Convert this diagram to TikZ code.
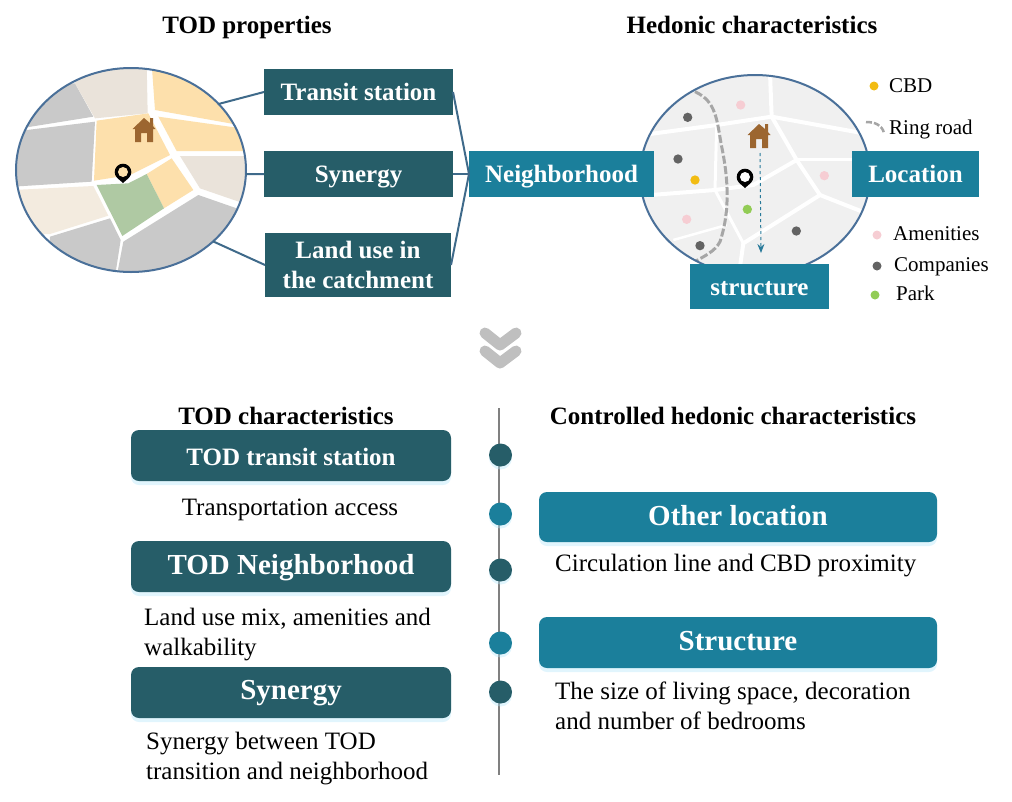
\documentclass[tikz,border=0pt]{standalone}
\usepackage{fontspec}
\setmainfont{Liberation Serif}
\usetikzlibrary{shapes.geometric,shadows,arrows.meta}
\definecolor{darkteal}{HTML}{265D68}
\definecolor{midteal}{HTML}{1B7F9B}
\definecolor{mapline}{HTML}{4A7099}
\definecolor{brgray}{HTML}{C9C9C9}
\definecolor{brbeige}{HTML}{EAE3DA}
\definecolor{brorange}{HTML}{FDE0AC}
\definecolor{brgreen}{HTML}{AFC9A3}
\definecolor{brown}{HTML}{9C6630}
\definecolor{dotyellow}{HTML}{F2BC12}
\definecolor{dotpink}{HTML}{F6CDD3}
\definecolor{dotdark}{HTML}{636363}
\definecolor{dotgreen}{HTML}{92CC55}
\tikzset{
  title/.style={font=\fontsize{25}{25}\selectfont\bfseries},
  plain/.style={font=\fontsize{25}{30}\selectfont,align=left,inner sep=0pt},
  legend/.style={font=\fontsize{21}{21}\selectfont,anchor=west,inner sep=0pt},
  label/.style={font=\fontsize{25}{30}\selectfont\bfseries,text=white,align=center,inner sep=0pt,outer sep=0pt},
  darkbox/.style={label,fill=darkteal},
  tealbox/.style={label,fill=midteal},
  card/.style={font=\fontsize{#1}{#1}\selectfont\bfseries,text=white,inner sep=0pt,outer sep=0pt,rounded corners=8pt,
    drop shadow={shadow xshift=0pt,shadow yshift=-4pt,fill=cyan!30!white,opacity=.4}},
  mapring/.style={ellipse,draw=mapline,line width=2pt,inner sep=0pt,outer sep=0pt},
  link/.style={draw=mapline!70!darkteal,line width=2pt},
  stop/.style={circle,minimum size=23pt,inner sep=0pt,
    drop shadow={shadow xshift=0pt,shadow yshift=-3pt,fill=cyan!30!white,opacity=.4}},
  mappin/.pic={
    \fill[black] (0,10) -- (-5.87,4.87) arc[start angle=225,end angle=-45,radius=8.3pt] -- cycle;
    \fill[pic actions] (0,-1) circle (5pt);
  },
  maphouse/.pic={
    \fill[brown] (-11.5,-1) -- (0,-12) -- (6,-7) -- (6,-12) -- (9,-12) -- (9,-4) -- (11.5,-1) -- (9,-1) -- (9,12) -- (3,12) -- (3,3) -- (-3,3) -- (-3,12) -- (-9,12) -- (-9,-1) -- cycle;
  }
}
\begin{document}
\begin{tikzpicture}[x=1pt,y=-1pt]
\useasboundingbox (0,0) rectangle (1012,801);
% left map
\begin{scope}
\clip (131,170) ellipse [x radius=115pt,y radius=102pt];
\fill[white] (0,50) rectangle (260,290);
\begin{scope}[shift={(0,50)},scale=1/3]
\fill[brgray] (40,100) -- (225,100) -- (280,200) -- (80,232) -- cycle;
\fill[brgray] (40,245) -- (285,215) -- (275,395) -- (40,410) -- cycle;
\fill[brbeige] (225,100) -- (250,40) -- (440,40) -- (443,190) -- (285,205) -- cycle;
\fill[brorange] (455,40) -- (760,40) -- (760,240) -- (690,220) -- (465,180) -- cycle;
\fill[brorange] (475,200) -- (760,240) -- (760,303) -- (530,303) -- cycle;
\fill[brbeige] (540,318) -- (760,318) -- (760,470) -- (600,415) -- cycle;
\fill[brorange] (290,212) -- (445,190) -- (510,315) -- (390,375) -- (282,392) -- cycle;
\fill[brorange] (440,372) -- (515,325) -- (580,420) -- (492,475) -- cycle;
\fill[brgreen] (290,405) -- (385,400) -- (440,372) -- (492,475) -- (367,558) -- cycle;
\fill[brbeige!80!brorange!70!white] (40,420) -- (280,408) -- (325,497) -- (150,552) -- (40,555) -- cycle;
\fill[brgray] (150,560) -- (330,505) -- (362,570) -- (345,680) -- (150,680) -- cycle;
\fill[brgray] (350,680) -- (370,575) -- (595,435) -- (710,475) -- (760,470) -- (760,680) -- cycle;
\end{scope}
\end{scope}
\node[mapring,minimum width=230pt,minimum height=204pt] (todmap) at (131,170) {};
\pic at (144,130) {maphouse};
\pic[fill=brorange] at (123,173) {mappin};
% right map
\begin{scope}
\clip (755,175) ellipse [x radius=115pt,y radius=100pt];
\fill[white!50!blue!8!white] (630,60) rectangle (880,290);
\begin{scope}[shift={(620,60)},scale=1/3]
\fill[black!6] (60,30) rectangle (750,700);
\draw[white,line width=4pt] (450,40) -- (455,170) -- (530,300) -- (600,405) -- (370,550) -- (360,620);
\draw[white,line width=4pt] (90,222) -- (290,195) -- (455,170) -- (720,218);
\draw[white,line width=3pt] (530,298) -- (720,298);
\draw[white,line width=4pt] (80,406) -- (285,390) -- (400,375) -- (530,300);
\draw[white,line width=4pt] (600,405) -- (740,460);
\draw[white,line width=3pt] (290,195) -- (285,390) -- (370,550);
\draw[white,line width=2.5pt] (160,540) -- (320,495);
\draw[black!35,line width=3pt,dash pattern=on 8pt off 2.5pt] (225,95) .. controls (290,125) and (290,180) .. (305,260) .. controls (330,380) and (325,470) .. (300,545) .. controls (285,575) and (250,590) .. (215,610);
\foreach \x/\y/\c in {203/172/dotdark,174/297/dotdark,240/557/dotdark,529/513/dotdark,225/360/dotyellow,362/135/dotpink,613/347/dotpink,200/478/dotpink,382/448/dotgreen}
{
  \fill[\c] (\x,\y) circle (14);
}
\end{scope}
\end{scope}
\node[mapring,minimum width=230pt,minimum height=200pt] (hedmap) at (755,175) {};
\pic at (759,136) {maphouse};
\pic[fill=white] at (745,178) {mappin};
\coordinate (housefoot) at (760,153);
\coordinate (streetend) at (761,253);
\draw[midteal!70!mapline,line width=1pt,dashed,-{Stealth[length=9pt,width=7pt]}] (housefoot) -- (streetend);
% top boxes
\node[title] (todprops) at (247,27) {TOD properties};
\node[title] (hedchars) at (752,25) {Hedonic characteristics};
\node[darkbox,minimum width=189pt,minimum height=46pt] (transit) at (358.5,92) {Transit station};
\node[darkbox,minimum width=189pt,minimum height=46pt,text height=22pt] (synergy) at (358.5,174) {Synergy};
\node[darkbox,minimum width=186pt,minimum height=64pt] (landuse) at (358,265) {Land use in\\the catchment};
\node[tealbox,minimum width=185pt,minimum height=46pt,text height=23pt] (neighbor) at (561.5,174) {Neighborhood};
\node[tealbox,minimum width=127pt,minimum height=46pt] (location) at (915.5,174) {Location};
\node[tealbox,minimum width=139pt,minimum height=45pt,text height=18pt] (structure) at (759.5,286.5) {structure};
\draw[link] (todmap.37) -- (transit.west);
\draw[link] (todmap.-2) -- (synergy.west);
\draw[link] (todmap.-41) -- (landuse.west);
\draw[link] (transit.east) -- (neighbor.west);
\draw[link] (synergy.east) -- (neighbor.west);
\draw[link] (landuse.east) -- (neighbor.west);
% legend
\fill[dotyellow] (874,86) circle (4.5pt);
\fill[dotpink] (877,235) circle (4.5pt);
\fill[dotdark] (877,266) circle (4.5pt);
\fill[dotgreen] (875,295) circle (4.5pt);
\draw[black!35,line width=2.5pt,dash pattern=on 6pt off 2pt] (866,122) .. controls (875,122) and (882,125) .. (884,133);
\node[legend] (cbd) at (889,86) {CBD};
\node[legend] (ringroad) at (889,129) {Ring road};
\node[legend] (amenities) at (893,234) {Amenities};
\node[legend] (companies) at (894,267) {Companies};
\node[legend] (park) at (896,293) {Park};
% double chevron
\draw[black!25,line width=11pt,line cap=round,line join=round] (485,333) -- (500,345) -- (516,333);
\draw[black!25,line width=11pt,line cap=round,line join=round] (485,351) -- (500,363) -- (516,351);
% bottom part
\coordinate (axistop) at (499,408);
\coordinate (axisend) at (499,775);
\draw[black!50,line width=2pt] (axistop) -- (axisend);
\foreach \y/\c in {455/darkteal,514/midteal,570/darkteal,643/midteal,692/darkteal}
{
  \node[stop,fill=\c] (stop\y) at (500.5,\y) {};
}
\node[title] (todchars) at (286,416) {TOD characteristics};
\node[title] (ctrlchars) at (733,416) {Controlled hedonic characteristics};
\node[card=25,fill=darkteal,minimum width=320pt,minimum height=51pt,text height=21pt] (cardtransit) at (291,455.5) {TOD transit station};
\node[card=29,fill=darkteal,minimum width=320pt,minimum height=51pt,text height=22pt] (cardneighbor) at (291,566.5) {TOD Neighborhood};
\node[card=29,fill=darkteal,minimum width=320pt,minimum height=51pt,text height=21pt] (cardsynergy) at (291,692.5) {Synergy};
\node[card=29,fill=midteal,minimum width=398pt,minimum height=50pt,text depth=4pt] (cardlocation) at (738,517) {Other location};
\node[card=29,fill=midteal,minimum width=398pt,minimum height=51pt,text depth=4pt] (cardstructure) at (738,642.5) {Structure};
\node[plain] (transport) at (290,510) {Transportation access};
\node[plain,anchor=west] (landmix) at (144,635) {Land use mix, amenities and\\walkability};
\node[plain,anchor=west] (synergytext) at (146,759) {Synergy between TOD\\transition and neighborhood};
\node[plain,anchor=west] (circulation) at (555,566) {Circulation line and CBD proximity};
\node[plain,anchor=west] (livingsize) at (555,706) {The size of living space, decoration\\and number of bedrooms};
\end{tikzpicture}
\end{document}
